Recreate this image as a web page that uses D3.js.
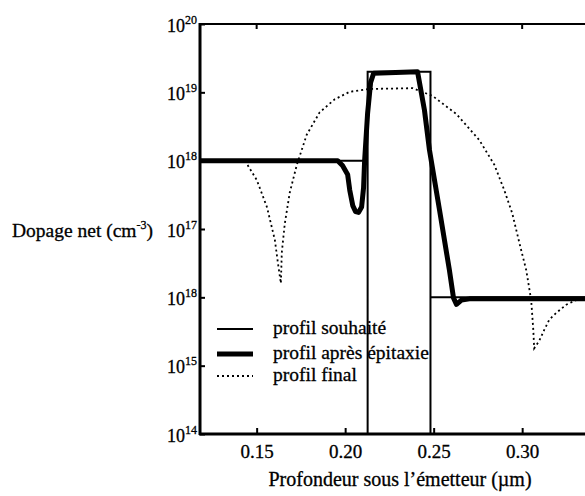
<!DOCTYPE html>
<html>
<head>
<meta charset="utf-8">
<script src="https://cdn.jsdelivr.net/npm/d3@7"></script>
<style>
  html, body { margin: 0; padding: 0; background: #fff; }
  svg { display: block; }
  text { font-family: "Liberation Serif", "DejaVu Serif", serif; fill: #000; stroke: #000; stroke-width: 0.3px; }
</style>
</head>
<body>
<svg id="chart" width="585" height="496"></svg>
<script>
// Depth (µm) and net doping (cm^-3) for each profile
const desiredDepth = [0.118, 0.2127, 0.2127, 0.2127, 0.2482, 0.2482, 0.2482, 0.3355];
const desiredDoping = [1e18, 1e18, 1e14, 2e19, 2e19, 1e14, 1e16, 1e16];

const epiDepth = [0.118, 0.1958, 0.1985, 0.2014, 0.2026, 0.2043, 0.2059, 0.2076, 0.2093, 0.2104,
  0.2110, 0.2127, 0.2144, 0.2161, 0.2409, 0.2448, 0.2476, 0.2533, 0.2589, 0.2612, 0.2629, 0.2657, 0.2702, 0.3355];
const epiDoping = [1e18, 1e18, 8.5e17, 6.3e17, 3.7e17, 2.2e17, 1.8e17, 1.75e17, 2.1e17, 4.0e17,
  1e18, 5.0e18, 1.4e19, 1.9e19, 2.0e19, 5.5e18, 1.45e18, 1.9e17, 2.5e16, 9.8e15, 7.9e15, 9.1e15, 9.5e15, 9.5e15];

const finalDepth = [0.118, 0.1434, 0.1501, 0.1558, 0.1603, 0.1620, 0.1637, 0.1642, 0.1659, 0.1687,
  0.1727, 0.1783, 0.1856, 0.1941, 0.2026, 0.2138, 0.2381, 0.2493, 0.2629, 0.2758, 0.2843, 0.2899,
  0.2944, 0.2984, 0.3023, 0.3051, 0.3063, 0.3068, 0.3096, 0.3124, 0.3153, 0.3192, 0.3249, 0.3305, 0.3355];
const finalDoping = [1e18, 1e18, 5.2e17, 2.1e17, 6.9e16, 3.2e16, 1.6e16, 4.5e16, 1.2e17, 3.4e17,
  8.7e17, 2.4e18, 5.1e18, 7.9e18, 1.02e19, 1.12e19, 1.15e19, 8.9e18, 4.8e18, 2.0e18, 8.7e17, 3.7e17,
  1.7e17, 6.3e16, 2.5e16, 9.1e15, 3.3e15, 1.8e15, 2.3e15, 3.3e15, 4.7e15, 5.9e15, 7.8e15, 9.1e15, 9.5e15];

// Axis ticks and labels
const xTicks = [0.15, 0.20, 0.25, 0.30];
const xTickLabels = ["0.15", "0.20", "0.25", "0.30"];
const yTicks = [1e20, 1e19, 1e18, 1e17, 1e16, 1e15, 1e14];
const yTickExponents = ["20", "19", "18", "17", "18", "15", "14"];

const seriesNames = ["profil souhaité", "profil après épitaxie", "profil final"];

const svg = d3.select("#chart");
const plotLeft = 200, plotRight = 585, plotTop = 24, plotBottom = 434;

const x = d3.scaleLinear().domain([0.118, 0.3355]).range([plotLeft, plotRight]);
const y = d3.scaleLog().domain([1e14, 1e20]).range([plotBottom, plotTop]);

svg.append("defs").append("clipPath").attr("id", "plotClip")
  .append("rect").attr("x", plotLeft).attr("y", plotTop - 2)
  .attr("width", plotRight - plotLeft).attr("height", plotBottom - plotTop + 2);

const plot = svg.append("g").attr("clip-path", "url(#plotClip)");
const line = d3.line().x(d => x(d[0])).y(d => y(d[1]));

const zip = (a, b) => a.map((v, i) => [v, b[i]]);

// Final profile (dotted)
plot.append("path").datum(zip(finalDepth, finalDoping))
  .attr("d", line).attr("fill", "none").attr("stroke", "#000")
  .attr("stroke-width", 1.8).attr("stroke-dasharray", "2,3");

// Desired profile (thin)
plot.append("path").datum(zip(desiredDepth, desiredDoping))
  .attr("d", line).attr("fill", "none").attr("stroke", "#000")
  .attr("stroke-width", 2).attr("stroke-linejoin", "miter");

// Profile after epitaxy (thick)
plot.append("path").datum(zip(epiDepth, epiDoping))
  .attr("d", line).attr("fill", "none").attr("stroke", "#000")
  .attr("stroke-width", 5).attr("stroke-linejoin", "round");

// Frame: left, bottom and top edges
const frame = svg.append("g").attr("stroke", "#000").attr("fill", "none");
frame.append("line").attr("x1", plotLeft).attr("x2", plotLeft).attr("y1", plotTop - 1).attr("y2", plotBottom + 1).attr("stroke-width", 3);
frame.append("line").attr("x1", plotLeft - 1).attr("x2", plotRight).attr("y1", plotBottom).attr("y2", plotBottom).attr("stroke-width", 3);
frame.append("line").attr("x1", plotLeft - 1).attr("x2", plotRight).attr("y1", plotTop).attr("y2", plotTop).attr("stroke-width", 2);

// Bottom axis with inward ticks
const xAxis = d3.axisBottom(x).tickValues(xTicks).tickSize(0).tickPadding(0)
  .tickFormat((d, i) => xTickLabels[i]);
const gx = svg.append("g").attr("transform", `translate(0,${plotBottom})`).call(xAxis);
gx.select(".domain").remove();
gx.selectAll(".tick text").attr("font-size", 19).attr("dy", null).attr("y", 24)
  .attr("font-family", "Liberation Serif, serif");
gx.selectAll(".tick").append("line").attr("y1", 0).attr("y2", -6)
  .attr("stroke", "#000").attr("stroke-width", 2);

// Top ticks
svg.append("g").selectAll("line").data(xTicks).join("line")
  .attr("x1", d => x(d)).attr("x2", d => x(d)).attr("y1", plotTop).attr("y2", plotTop + 5)
  .attr("stroke", "#000").attr("stroke-width", 2);

// Left axis with inward ticks and 10^n labels
const yAxis = d3.axisLeft(y).tickValues(yTicks).tickSize(0).tickFormat("");
const gy = svg.append("g").attr("transform", `translate(${plotLeft},0)`).call(yAxis);
gy.select(".domain").remove();
gy.selectAll(".tick").append("line").attr("x1", 0).attr("x2", 5)
  .attr("stroke", "#000").attr("stroke-width", 2);
gy.selectAll(".tick").each(function (d, i) {
  const t = d3.select(this).append("text").attr("x", -3).attr("y", 7)
    .attr("text-anchor", "end").attr("font-size", 18)
    .attr("font-family", "Liberation Serif, serif").attr("fill", "#000");
  t.append("tspan").text("10");
  t.append("tspan").attr("font-size", 12).attr("dy", -8).text(yTickExponents[i]);
});

// Axis titles
const yTitle = svg.append("text").attr("x", 153).attr("y", y(1e17) + 8)
  .attr("text-anchor", "end").attr("font-size", 19.5);
yTitle.append("tspan").text("Dopage net (cm");
yTitle.append("tspan").attr("font-size", 12).attr("dy", -8).text("-3");
yTitle.append("tspan").attr("dy", 8).text(")");

svg.append("text").attr("x", 400).attr("y", 486).attr("text-anchor", "middle")
  .attr("font-size", 20).text("Profondeur sous l\u2019émetteur (\u00b5m)");

// Legend
const legendRows = [
  { y: 329, width: 2, dash: null },
  { y: 354, width: 5, dash: null },
  { y: 376, width: 1.8, dash: "2,3" }
];
const legend = svg.append("g");
legendRows.forEach((r, i) => {
  legend.append("line").attr("x1", 217).attr("x2", 253).attr("y1", r.y).attr("y2", r.y)
    .attr("stroke", "#000").attr("stroke-width", r.width)
    .attr("stroke-dasharray", r.dash);
  legend.append("text").attr("x", 273).attr("y", r.y + 5).attr("font-size", 19.5).text(seriesNames[i]);
});
</script>
</body>
</html>
